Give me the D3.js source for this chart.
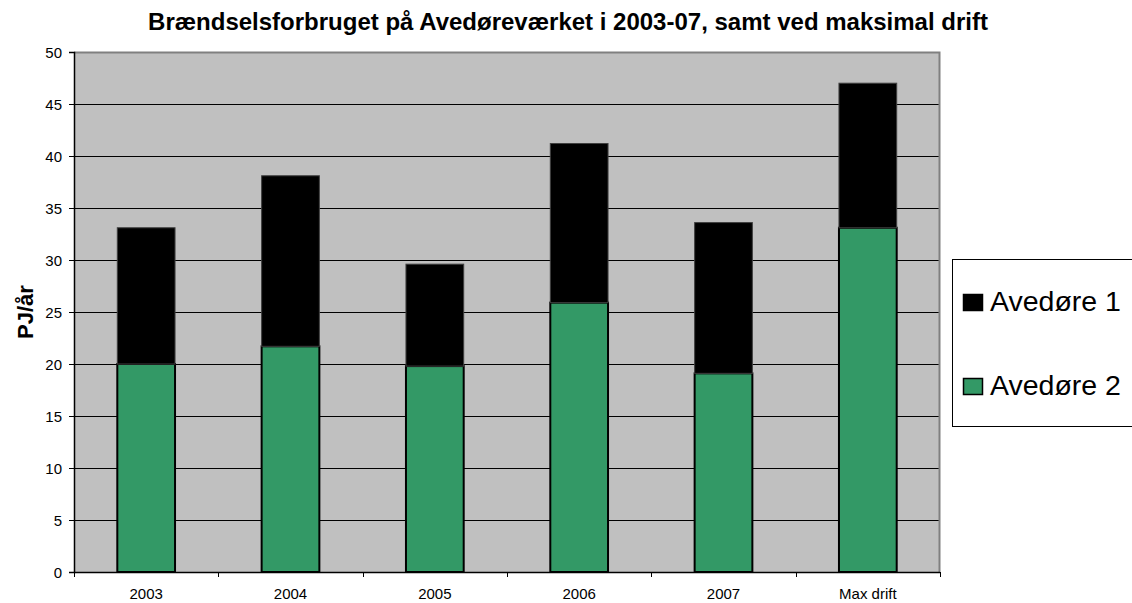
<!DOCTYPE html>
<html>
<head>
<meta charset="utf-8">
<script src="https://cdn.jsdelivr.net/npm/d3@7"></script>
<style>
    body { margin: 0; background: #fff; }
    svg { display: block; font-family: Arial, "Liberation Sans", sans-serif; }
</style>
</head>
<body>
<div id="chart"></div>
<script>
// Chart data
const categories = ['2003', '2004', '2005', '2006', '2007', 'Max drift'];
const avedore2 = [20.0, 21.7, 19.8, 25.9, 19.1, 33.1];
const avedore1 = [13.1, 16.4, 9.8, 15.3, 14.5, 13.9];
const yTicks = [0, 5, 10, 15, 20, 25, 30, 35, 40, 45, 50];
const seriesNames = ['Avedøre 1', 'Avedøre 2'];
const seriesColors = { 'Avedøre 1': '#000000', 'Avedøre 2': '#339966' };

const width = 1132;
const height = 603;
const plot = { left: 74, top: 52, right: 940, bottom: 572 };

const svg = d3.select('#chart')
    .append('svg')
    .attr('width', width)
    .attr('height', height);

const x = d3.scaleBand()
    .domain(categories)
    .range([plot.left, plot.right])
    .paddingInner(0.6)
    .paddingOuter(0.3);

const y = d3.scaleLinear()
    .domain([0, 50])
    .range([plot.bottom, plot.top]);

// Plot background
svg.append('rect')
    .attr('x', plot.left)
    .attr('y', plot.top)
    .attr('width', plot.right - plot.left)
    .attr('height', plot.bottom - plot.top)
    .attr('fill', '#c0c0c0');

// Gridlines
svg.append('g')
    .selectAll('line')
    .data(yTicks.filter(t => t > 0 && t < 50))
    .join('line')
    .attr('x1', plot.left)
    .attr('x2', plot.right)
    .attr('y1', d => Math.round(y(d)) + 0.5)
    .attr('y2', d => Math.round(y(d)) + 0.5)
    .attr('stroke', '#000')
    .attr('stroke-width', 1);

// Top and right border
svg.append('path')
    .attr('d', `M${plot.left},${plot.top + 0.5}H${plot.right - 0.5}V${plot.bottom}`)
    .attr('fill', 'none')
    .attr('stroke', '#808080')
    .attr('stroke-width', 2);

// Stacked bars
const stackData = categories.map((c, i) => ({ cat: c, 'Avedøre 2': avedore2[i], 'Avedøre 1': avedore1[i] }));
const stack = d3.stack().keys(['Avedøre 2', 'Avedøre 1'])(stackData);

stack.forEach(layer => {
    svg.append('g')
        .selectAll('rect')
        .data(layer)
        .join('rect')
        .attr('x', d => x(d.data.cat))
        .attr('y', d => y(d[1]))
        .attr('width', x.bandwidth())
        .attr('height', d => y(d[0]) - y(d[1]))
        .attr('fill', seriesColors[layer.key])
        .attr('stroke', layer.key === 'Avedøre 1' ? '#404040' : '#000')
        .attr('stroke-width', layer.key === 'Avedøre 1' ? 1 : 2);
});

// Y axis
const yAxis = svg.append('g')
    .attr('transform', `translate(${plot.left},0)`)
    .call(d3.axisLeft(y).tickValues(yTicks).tickSize(5).tickPadding(7));
yAxis.select('.domain').attr('stroke', '#000').attr('stroke-width', 1.5);
yAxis.selectAll('.tick line').attr('stroke', '#000');
yAxis.selectAll('.tick text')
    .attr('font-size', 15)
    .attr('fill', '#000')
    .attr('dy', '0.36em')
    .attr('font-family', 'Arial, "Liberation Sans", sans-serif');

// X axis baseline and ticks at category boundaries
const boundaries = d3.range(categories.length + 1).map(i => plot.left + i * (plot.right - plot.left) / categories.length);
svg.append('line')
    .attr('x1', plot.left)
    .attr('x2', plot.right)
    .attr('y1', plot.bottom + 0.5)
    .attr('y2', plot.bottom + 0.5)
    .attr('stroke', '#000')
    .attr('stroke-width', 1.5);
svg.append('g')
    .selectAll('line')
    .data(boundaries)
    .join('line')
    .attr('x1', d => Math.round(d) + 0.5)
    .attr('x2', d => Math.round(d) + 0.5)
    .attr('y1', plot.bottom)
    .attr('y2', plot.bottom + 5)
    .attr('stroke', '#000');

svg.append('g')
    .selectAll('text')
    .data(categories)
    .join('text')
    .attr('x', d => x(d) + x.bandwidth() / 2)
    .attr('y', 599)
    .attr('text-anchor', 'middle')
    .attr('font-size', 15)
    .text(d => d);

// Title
svg.append('text')
    .attr('x', 568)
    .attr('y', 30)
    .attr('text-anchor', 'middle')
    .attr('font-size', 24)
    .attr('font-weight', 'bold')
    .text('Brændselsforbruget på Avedøreværket i 2003-07, samt ved maksimal drift');

// Y label
svg.append('text')
    .attr('transform', `translate(33,${(plot.top + plot.bottom) / 2}) rotate(-90)`)
    .attr('text-anchor', 'middle')
    .attr('font-size', 22)
    .attr('font-weight', 'bold')
    .text('PJ/år');

// Legend
const legend = svg.append('g');
legend.append('rect')
    .attr('x', 952.5)
    .attr('y', 259.5)
    .attr('width', 200)
    .attr('height', 167)
    .attr('fill', '#fff')
    .attr('stroke', '#000');

seriesNames.forEach((name, i) => {
    const ly = 294 + i * 84;
    legend.append('rect')
        .attr('x', 963.5)
        .attr('y', ly + 0.5)
        .attr('width', 19)
        .attr('height', 16)
        .attr('fill', seriesColors[name])
        .attr('stroke', '#000')
        .attr('stroke-width', 1.5);
    legend.append('text')
        .attr('x', 990)
        .attr('y', ly + 17)
        .attr('font-size', 28.5)
        .text(name);
});
</script>
</body>
</html>
